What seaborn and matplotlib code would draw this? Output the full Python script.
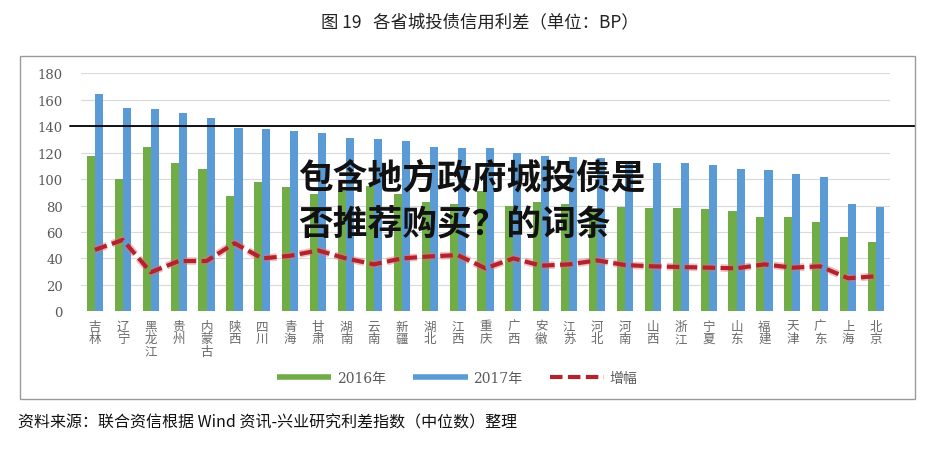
import matplotlib
matplotlib.use('Agg')
import matplotlib.pyplot as plt
import matplotlib.patheffects as pe
from matplotlib.lines import Line2D
from matplotlib.patches import Rectangle
import seaborn as sns
import pandas as pd

# ---- data ----
provinces = ['吉林', '辽宁', '黑龙江', '贵州', '内蒙古', '陕西', '四川', '青海', '甘肃', '湖南',
             '云南', '新疆', '湖北', '江西', '重庆', '广西', '安徽', '江苏', '河北', '河南',
             '山西', '浙江', '宁夏', '山东', '福建', '天津', '广东', '上海', '北京']
spread_2016 = [117.5, 100, 124.5, 112, 108, 87, 98, 94, 88.5, 91,
               94.5, 88.5, 83, 81, 91, 80, 83, 81.5, 77.5, 79,
               78, 78.5, 77.5, 75.5, 71.5, 71, 67.5, 56, 52.5]
spread_2017 = [164, 154, 153, 150, 146, 138.5, 138, 136, 134.5, 131,
               130, 128.5, 124.5, 123.5, 123.5, 120, 117.5, 117, 116, 114,
               112, 112, 110.5, 108, 107, 104, 101.5, 81, 79]
growth = [46.5, 54, 29.5, 38, 38, 51.5, 40, 42, 46, 40,
          35.5, 40, 41.5, 42.5, 32.5, 40, 34.5, 35.5, 38.5, 35,
          34, 33.5, 33, 32.5, 35.5, 33, 34, 25, 26.5]
series_names = ['2016年', '2017年', '增幅']
y_ticks = [0, 20, 40, 60, 80, 100, 120, 140, 160, 180]
ref_level = 140
title = '图 19   各省城投债信用利差（单位：BP）'
source = '资料来源：联合资信根据 Wind 资讯-兴业研究利差指数（中位数）整理'
overlay_1 = '包含地方政府城投债是'
overlay_2 = '否推荐购买？的词条'

GREEN = '#70AD47'
BLUE = '#5B9BD5'
RED = '#B3232C'

sns.set_style('white')
plt.rcParams['font.family'] = ['DejaVu Serif', 'Noto Sans CJK SC']

W, H = 940, 464
fig = plt.figure(figsize=(W / 100, H / 100), dpi=100)
fig.patch.set_facecolor('white')

# outer frame
fig.add_artist(Rectangle((20 / W, 1 - 400 / H), 895 / W, 343 / H, transform=fig.transFigure,
                         fill=False, edgecolor='#9a9a9a', linewidth=1.0))

ax_l, ax_r, ax_t, ax_b = 81, 890, 74.3, 312.3
ax = fig.add_axes([ax_l / W, 1 - ax_b / H, (ax_r - ax_l) / W, (ax_b - ax_t) / H])

n = len(provinces)
df = pd.DataFrame({'省份': provinces * 2,
                   '年份': [series_names[0]] * n + [series_names[1]] * n,
                   '利差': spread_2016 + spread_2017})
sns.barplot(data=df, x='省份', y='利差', hue='年份', palette=[GREEN, BLUE],
            width=0.58, gap=0, saturation=1, ax=ax, legend=False,
            edgecolor='none', linewidth=0)

gdf = pd.DataFrame({'省份': provinces, '增幅': growth})
sns.lineplot(data=gdf, x='省份', y='增幅', ax=ax, color=RED, linewidth=3, sort=False)
gl = ax.lines[-1]
gl.set_dashes([3, 1.3])
gl.set_solid_capstyle('round')
gl.set_path_effects([pe.Stroke(linewidth=5.5, foreground='#E8707A', alpha=0.45), pe.Normal()])

ax.set_xlim(-0.5, n - 0.5)
ax.set_ylim(0, 180)
ax.set_yticks(y_ticks)
ax.set_yticklabels([str(v) for v in y_ticks])
ax.set_xticks(range(n))
ax.set_xticklabels(['\n'.join(p) for p in provinces])
for lab in ax.get_xticklabels():
    lab.set_family(['Noto Sans CJK SC'])
    lab.set_linespacing(0.95)
ax.set_xlabel('')
ax.set_ylabel('')
ax.yaxis.grid(True, color='#d9d9d9', linewidth=0.8)
ax.xaxis.grid(False)
ax.set_axisbelow(True)
for s in ax.spines.values():
    s.set_visible(False)
ax.tick_params(axis='y', length=0, pad=13, labelsize=9.5, labelcolor='#595959')
ax.tick_params(axis='x', length=0, pad=6, labelsize=9, labelcolor='#6a6a6a')

ax.axhline(ref_level, xmin=(70 - ax_l) / (ax_r - ax_l), xmax=(915 - ax_l) / (ax_r - ax_l),
           color='black', linewidth=1.3, clip_on=False, zorder=5)

handles = [Line2D([], [], color=GREEN, linewidth=4, solid_capstyle='butt'),
           Line2D([], [], color=BLUE, linewidth=4, solid_capstyle='butt'),
           Line2D([], [], color=RED, linewidth=3, dashes=[3, 1.3])]
leg = ax.legend(handles, series_names, loc='center', bbox_to_anchor=(0.465, -0.28),
                ncol=3, frameon=False, fontsize=10, handlelength=3.9,
                handletextpad=0.4, columnspacing=2.0)
for t in leg.get_texts():
    t.set_color('#595959')

fig.text(480 / W, 1 - 22 / H, title, ha='center', va='center', fontsize=12.5,
         family=['Noto Sans CJK SC'], color='#222222')
fig.text(18 / W, 1 - 423 / H, source, ha='left', va='center', fontsize=11.5,
         family=['Noto Sans CJK SC'], color='#111111')

fig.text(298 / W, 1 - 178 / H, overlay_1, ha='left', va='center', fontsize=25,
         family=['Noto Sans CJK SC'], fontweight='black', color='#111111')
fig.text(298 / W, 1 - 225 / H, overlay_2, ha='left', va='center', fontsize=25,
         family=['Noto Sans CJK SC'], fontweight='black', color='#111111')

fig.savefig('out.png', dpi=100, facecolor='white')
